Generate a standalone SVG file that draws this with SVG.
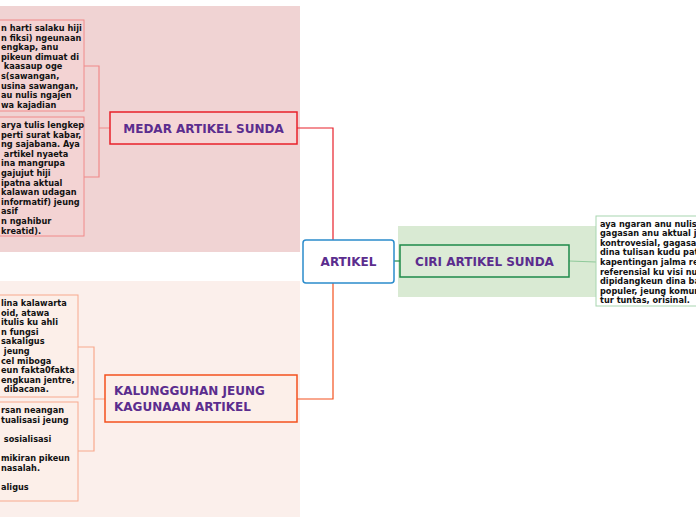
<svg xmlns="http://www.w3.org/2000/svg" width="696" height="520" viewBox="0 0 696 520">
<style>
.t{font-family:"DejaVu Sans",sans-serif;font-weight:bold;font-size:8.2px;fill:#111}
.n{font-family:"DejaVu Sans",sans-serif;font-weight:bold;font-size:12px;fill:#5b2d8e}
</style>
<rect width="696" height="520" fill="#fff"/>
<rect x="0" y="6" width="300" height="246" fill="#f0d3d3"/>
<rect x="0" y="281" width="300" height="236" fill="#fbefeb"/>
<rect x="398" y="226" width="205" height="71" fill="#d9ead3"/>
<g id="connectors" fill="none" stroke-width="1.2">
<path d="M297,128 H333 V240" stroke="#e8202a"/>
<path d="M333,283 V399 H297" stroke="#f4511e"/>
<path d="M394,261 H400" stroke="#1e8a4a"/>
<path d="M569,261 L596,262" stroke="#8fc99a"/>
<path d="M110,128 H99 V66 H84 M99,128 V177 H84" stroke="#f08a8a"/>
<path d="M105,399 H94 V347 H78 M94,399 V451 H78" stroke="#f8a98e"/>
</g>
<g id="artikel"><rect x="303" y="240" width="91" height="43" rx="3" fill="#fff" stroke="#2b8ccc" stroke-width="1.5"/><text class="n" x="348.5" y="266" text-anchor="middle">ARTIKEL</text></g>
<g id="medar"><rect x="110" y="112" width="187" height="32" fill="#f5d6d6" stroke="#e8202a" stroke-width="1.5"/><text class="n" x="203.5" y="132.5" text-anchor="middle">MEDAR ARTIKEL SUNDA</text></g>
<g id="kalungguhan"><rect x="105" y="375" width="192" height="47" fill="#fcefe9" stroke="#f4511e" stroke-width="1.5"/><text class="n" x="114" y="395">KALUNGGUHAN JEUNG</text><text class="n" x="114" y="411">KAGUNAAN ARTIKEL</text></g>
<g id="ciri"><rect x="400" y="245" width="169" height="32" fill="#dcebd6" stroke="#1e8a4a" stroke-width="1.5"/><text class="n" x="484.5" y="265.5" text-anchor="middle">CIRI ARTIKEL SUNDA</text></g>
<g id="medar1"><rect x="-5" y="20" width="89" height="91" fill="#f3d3d3" stroke="#f08a8a"/>
<text class="t"><tspan x="1" y="31">n harti salaku hiji</tspan><tspan x="1" y="40.6">n fiksi) ngeunaan</tspan><tspan x="1" y="50.2">engkap, anu</tspan><tspan x="1" y="59.8">pikeun dimuat di</tspan><tspan x="1" y="69.4"> kaasaup oge</tspan><tspan x="1" y="79">s(sawangan,</tspan><tspan x="1" y="88.6">usina sawangan,</tspan><tspan x="1" y="98.2">au nulis ngajen</tspan><tspan x="1" y="107.8">wa kajadian</tspan></text>
</g>
<g id="medar2"><rect x="-5" y="117" width="89" height="119" fill="#f3d3d3" stroke="#f08a8a"/>
<text class="t"><tspan x="1" y="128">arya tulis lengkep</tspan><tspan x="1" y="137.6">perti surat kabar,</tspan><tspan x="1" y="147.2">ng sajabana. Aya</tspan><tspan x="1" y="156.8"> artikel nyaeta</tspan><tspan x="1" y="166.4">ina mangrupa</tspan><tspan x="1" y="176">gajujut hiji</tspan><tspan x="1" y="185.6">ipatna aktual</tspan><tspan x="1" y="195.2">kalawan udagan</tspan><tspan x="1" y="204.8">informatif) jeung</tspan><tspan x="1" y="214.4">asif</tspan><tspan x="1" y="224">n ngahibur</tspan><tspan x="1" y="233.6">kreatid).</tspan></text></g>
<g id="kal1"><rect x="-5" y="295" width="83" height="102" fill="#fcefe9" stroke="#f8a98e"/>
<text class="t"><tspan x="1" y="306">lina kalawarta</tspan><tspan x="1" y="315.6">oid, atawa</tspan><tspan x="1" y="325.2">itulis ku ahli</tspan><tspan x="1" y="334.8">n fungsi</tspan><tspan x="1" y="344.4">sakaligus</tspan><tspan x="1" y="354"> jeung</tspan><tspan x="1" y="363.6">cel miboga</tspan><tspan x="1" y="373.2">eun fakta0fakta</tspan><tspan x="1" y="382.8">engkuan jentre,</tspan><tspan x="1" y="392.4"> dibacana.</tspan></text></g>
<g id="kal2"><rect x="-5" y="402" width="83" height="99" fill="#fcefe9" stroke="#f8a98e"/>
<text class="t"><tspan x="1" y="413">rsan neangan</tspan><tspan x="1" y="422.6">tualisasi jeung</tspan><tspan x="1" y="441.8"> sosialisasi</tspan><tspan x="1" y="461">mikiran pikeun</tspan><tspan x="1" y="470.6">nasalah.</tspan><tspan x="1" y="489.8">aligus</tspan></text></g>
<g id="ciri1"><rect x="596" y="216" width="106" height="90" fill="#fff" stroke="#a8d5b0"/>
<text class="t"><tspan x="600" y="226.5">aya ngaran anu nulisna</tspan><tspan x="600" y="236.1">gagasan anu aktual jeung</tspan><tspan x="600" y="245.7">kontrovesial, gagasan</tspan><tspan x="600" y="255.3">dina tulisan kudu patali</tspan><tspan x="600" y="264.9">kapentingan jalma rea,</tspan><tspan x="600" y="274.5">referensial ku visi nu</tspan><tspan x="600" y="284.1">dipidangkeun dina basa</tspan><tspan x="600" y="293.7">populer, jeung komuni-</tspan><tspan x="600" y="303.3">tur tuntas, orisinal.</tspan></text></g>
</svg>
